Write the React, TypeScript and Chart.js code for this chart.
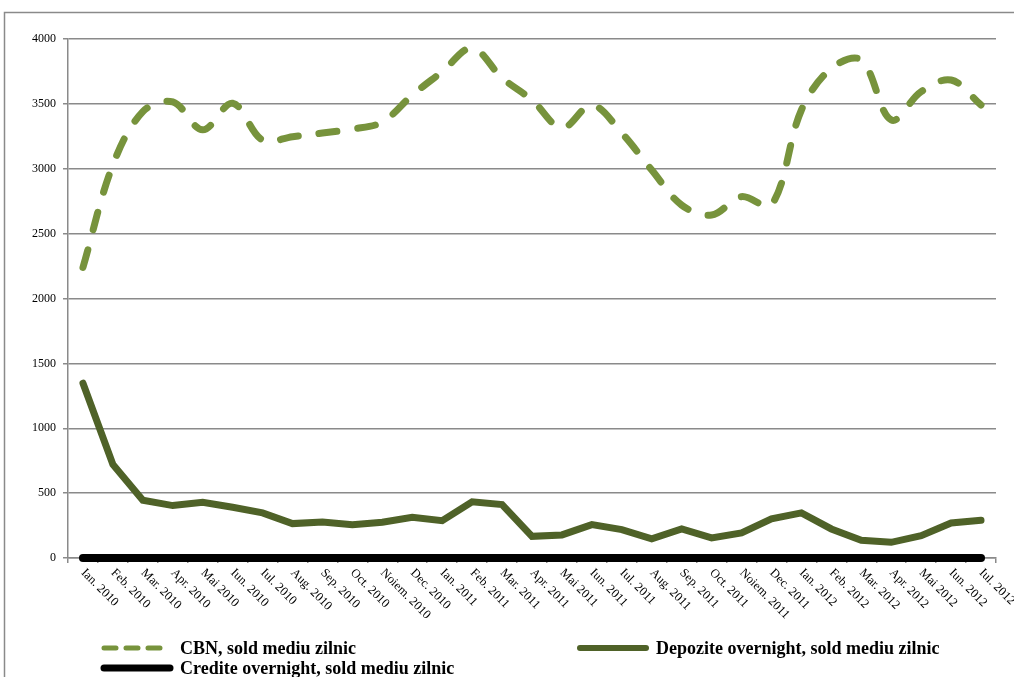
import React, { useEffect, useRef } from 'react';
import { Chart, registerables } from 'chart.js';

Chart.register(...registerables);

const categories = [
  'Ian. 2010', 'Feb. 2010', 'Mar. 2010', 'Apr. 2010', 'Mai 2010', 'Iun. 2010', 'Iul. 2010',
  'Aug. 2010', 'Sep. 2010', 'Oct. 2010', 'Noiem. 2010', 'Dec. 2010',
  'Ian. 2011', 'Feb. 2011', 'Mar. 2011', 'Apr. 2011', 'Mai 2011', 'Iun. 2011', 'Iul. 2011',
  'Aug. 2011', 'Sep. 2011', 'Oct. 2011', 'Noiem. 2011', 'Dec. 2011',
  'Ian. 2012', 'Feb. 2012', 'Mar. 2012', 'Apr. 2012', 'Mai 2012', 'Iun. 2012', 'Iul. 2012',
];

const cbnValues = [
  2240, 3030, 3440, 3515, 3300, 3505, 3220, 3247, 3275, 3306, 3360, 3568,
  3748, 3930, 3700, 3530, 3314, 3491, 3275, 2990, 2720, 2643, 2785, 2720,
  3453, 3774, 3838, 3376, 3594, 3684, 3491,
];

const depoziteValues = [
  1347, 721, 445, 404, 430, 391, 348, 265, 278, 257, 275, 314,
  288, 433, 412, 167, 178, 257, 219, 147, 224, 155, 193, 301,
  348, 224, 136, 121, 172, 270, 291,
];

const crediteValues = [
  0, 0, 0, 0, 0, 0, 0, 0, 0, 0, 0, 0,
  0, 0, 0, 0, 0, 0, 0, 0, 0, 0, 0, 0,
  0, 0, 0, 0, 0, 0, 0,
];

const seriesNames = [
  'CBN, sold mediu zilnic',
  'Depozite overnight, sold mediu zilnic',
  'Credite overnight, sold mediu zilnic',
];

const yMin = 0;
const yMax = 4000;
const yStep = 500;

const GRID = '#8a8a8a';
const FONT = '"Liberation Serif", "Times New Roman", serif';

export default function App() {
  const ref = useRef<HTMLCanvasElement | null>(null);

  useEffect(() => {
    if (!ref.current) return;

    const framePlugin = {
      id: 'frame',
      beforeDraw(chart: any) {
        const ctx = chart.ctx;
        ctx.save();
        ctx.strokeStyle = GRID;
        ctx.lineWidth = 1.5;
        ctx.strokeRect(4.5, 12.5, 1200, 1000);
        ctx.restore();
      },
    };

    const xLabelsPlugin = {
      id: 'xLabels',
      afterDraw(chart: any) {
        const ctx = chart.ctx;
        const x = chart.scales.x;
        ctx.save();
        ctx.font = `12.5px ${FONT}`;
        ctx.fillStyle = '#000';
        ctx.textAlign = 'left';
        ctx.textBaseline = 'middle';
        categories.forEach((lab, i) => {
          const px = x.getPixelForValue(i);
          ctx.save();
          ctx.translate(px, x.top + 13);
          ctx.rotate(Math.PI / 4);
          ctx.fillText(lab, 0, 0);
          ctx.restore();
        });
        ctx.restore();
      },
    };

    const legendPlugin = {
      id: 'customLegend',
      afterDraw(chart: any) {
        const ctx = chart.ctx;
        const spots = [
          { x: 102, y: 648 },
          { x: 578, y: 648 },
          { x: 102, y: 668 },
        ];
        chart.data.datasets.forEach((ds: any, i: number) => {
          const s = spots[i];
          ctx.save();
          ctx.strokeStyle = ds.borderColor;
          ctx.lineCap = 'round';
          if (i === 0) {
            ctx.lineWidth = 5;
            ctx.setLineDash([12, 10]);
          } else {
            ctx.lineWidth = i === 2 ? 7 : 6;
            ctx.setLineDash([]);
          }
          ctx.beginPath();
          ctx.moveTo(s.x + 2, s.y);
          ctx.lineTo(s.x + 68, s.y);
          ctx.stroke();
          ctx.setLineDash([]);
          ctx.font = `bold 18px ${FONT}`;
          ctx.fillStyle = '#000';
          ctx.textAlign = 'left';
          ctx.textBaseline = 'middle';
          ctx.fillText(ds.label, s.x + 78, s.y + 1);
          ctx.restore();
        });
      },
    };

    const chart = new Chart(ref.current, {
      type: 'line',
      data: {
        labels: categories,
        datasets: [
          {
            label: seriesNames[0],
            data: cbnValues,
            borderColor: '#77933c',
            backgroundColor: '#77933c',
            borderWidth: 7,
            borderDash: [18, 21],
            borderCapStyle: 'round',
            borderJoinStyle: 'round',
            tension: 0.35,
            pointRadius: 0,
            clip: false,
          },
          {
            label: seriesNames[1],
            data: depoziteValues,
            borderColor: '#4f6228',
            backgroundColor: '#4f6228',
            borderWidth: 7,
            borderCapStyle: 'round',
            borderJoinStyle: 'miter',
            tension: 0,
            pointRadius: 0,
            clip: false,
          },
          {
            label: seriesNames[2],
            data: crediteValues,
            borderColor: '#000000',
            backgroundColor: '#000000',
            borderWidth: 8,
            borderCapStyle: 'round',
            tension: 0,
            pointRadius: 0,
            clip: false,
          },
        ],
      },
      options: {
        responsive: false,
        animation: false,
        devicePixelRatio: 1,
        layout: { padding: { left: 0, top: 39, right: 18, bottom: 0 } },
        plugins: {
          legend: { display: false },
          tooltip: { enabled: false },
        },
        scales: {
          x: {
            type: 'category',
            offset: true,
            grid: {
              display: true,
              drawOnChartArea: false,
              drawTicks: true,
              tickLength: 5,
              offset: true,
              color: GRID,
              lineWidth: 1.5,
            },
            border: { display: true, color: GRID, width: 1.5 },
            ticks: { display: false },
            afterFit(scale: any) {
              scale.height = 119;
            },
          },
          y: {
            min: yMin,
            max: yMax,
            ticks: {
              stepSize: yStep,
              color: '#000',
              padding: 7,
              font: { family: FONT, size: 12 },
              callback: (v: any) => String(v),
            },
            grid: {
              color: GRID,
              lineWidth: 1.5,
              tickLength: 5,
              drawTicks: true,
            },
            border: { display: true, color: GRID, width: 1.5 },
            afterFit(scale: any) {
              scale.width = 68;
            },
          },
        },
      },
      plugins: [framePlugin, xLabelsPlugin, legendPlugin],
    } as any);

    return () => chart.destroy();
  }, []);

  return (
    <canvas
      ref={ref}
      width={1014}
      height={677}
      style={{ position: 'fixed', left: 0, top: 0, display: 'block' }}
    />
  );
}
